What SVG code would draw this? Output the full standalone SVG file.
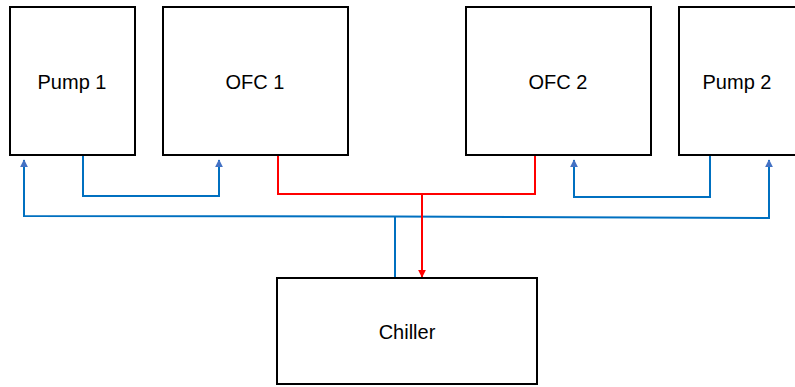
<svg xmlns="http://www.w3.org/2000/svg" width="795" height="387" viewBox="0 0 795 387">
<style>
.box{fill:#fff;stroke:#000;stroke-width:2}
.lbl{font-family:"Liberation Sans",Arial,sans-serif;font-size:20px;fill:#000;text-anchor:middle}
.blue{fill:none;stroke:#0070C0;stroke-width:2}
.red{fill:none;stroke:#FF0000;stroke-width:2}
</style>
<defs>
<marker id="ab" viewBox="0 0 10 10" refX="9" refY="5" markerWidth="4" markerHeight="4" orient="auto-start-reverse" markerUnits="strokeWidth"><path d="M0,0 L10,5 L0,10 z" fill="#4472C4"/></marker>
<marker id="ar" viewBox="0 0 10 10" refX="9" refY="5" markerWidth="4" markerHeight="4" orient="auto" markerUnits="strokeWidth"><path d="M0,0 L10,5 L0,10 z" fill="#FF0000"/></marker>
</defs>
<g id="connectors">
<polyline class="blue" points="83,155 83,196 219,196 219,160" marker-end="url(#ab)"/>
<polyline class="blue" points="710,155 710,197 574,197 574,160" marker-end="url(#ab)"/>
<polyline class="blue" points="24,160 24,216 395,216.5 769,218 769,160" marker-start="url(#ab)" marker-end="url(#ab)"/>
<line class="blue" x1="395" y1="216.5" x2="395" y2="278"/>
<polyline class="red" points="278,155 278,194 535,194 535,155"/>
<line class="red" x1="422" y1="194" x2="422" y2="277" marker-end="url(#ar)"/>
</g>
<g id="pump1"><rect class="box" x="10" y="7" width="125" height="148"/><text class="lbl" x="72" y="89">Pump 1</text></g>
<g id="ofc1"><rect class="box" x="163" y="7" width="185" height="148"/><text class="lbl" x="255" y="89">OFC 1</text></g>
<g id="ofc2"><rect class="box" x="466" y="7" width="185" height="148"/><text class="lbl" x="558" y="89">OFC 2</text></g>
<g id="pump2"><rect class="box" x="679" y="7" width="130" height="148"/><text class="lbl" x="737" y="89">Pump 2</text></g>
<g id="chiller"><rect class="box" x="277" y="278" width="260" height="106"/><text class="lbl" x="407" y="339">Chiller</text></g>
</svg>
